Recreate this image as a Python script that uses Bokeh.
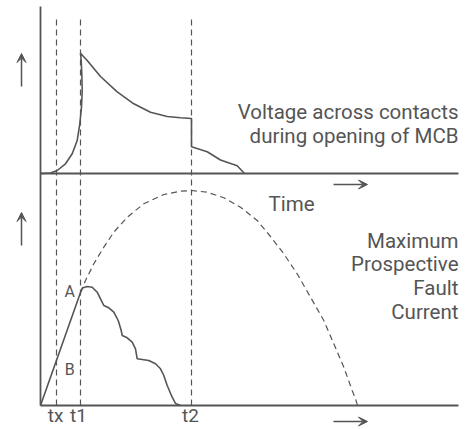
from bokeh.plotting import figure
from bokeh.models import Range1d, Arrow, VeeHead
from bokeh.core.properties import value
from bokeh.embed import file_html
from bokeh.resources import INLINE

# ---- data (time units; voltage panel and current panel) ----
t_marks = [16, 40, 151]
t_labels = ["tx", "t1", "t2"]

# voltage across contacts
v_time = [0, 10, 16.7, 25, 31.7, 36.7, 39.3, 41, 41.7, 41.3, 40.7, 40,
          46.7, 60, 76.7, 93.3, 110, 126.7, 140, 151,
          151, 166.7, 180, 196.7, 204]
v_vals = [0, 0.5, 3, 9.7, 19.7, 33, 49.7, 66.3, 83, 99.7, 113, 120.3,
          113, 97, 81.7, 69.7, 61.3, 57, 55.7, 55,
          26.7, 21.7, 13.5, 7.7, 0]

# actual (limited) fault current
i_time = [0, 40, 42, 46.7, 51.7, 56.7, 60, 63.3, 68.3, 73.3, 77.7, 80.7, 81.7,
          86.7, 91.7, 95, 96.7, 101.7, 108.3, 115, 120, 123.3, 126.7, 131.7, 135, 140]
i_vals = [0, 113, 117.5, 119, 118.3, 113.3, 106.7, 100, 97.7, 93.3, 85, 75, 70,
          67.7, 63.3, 56.7, 46.7, 46, 45, 41.7, 36.7, 30, 20, 8.3, 2, 0]

# maximum prospective fault current
p_time = [40, 45, 53.3, 63.3, 73.3, 86.7, 103.3, 123.3, 140, 151.7, 166.7, 183.3,
          200, 216.7, 230, 243.3, 256.7, 270, 283.3, 293.3, 303.3, 311.7, 315, 317]
p_vals = [113, 125, 141.7, 158.3, 173.3, 188.3, 201.7, 211, 214.3, 215, 213.3, 207.7,
          198.3, 185, 169, 151.7, 131.7, 108.3, 85, 61.7, 38.3, 15, 6.7, 0]

axis_end = 418
grey = "#555555"
text_grey = "#555555"
FONT = value("Roboto")

p = figure(width=475, height=429, output_backend="svg", toolbar_location=None,
           x_range=Range1d(-40, 435), y_range=Range1d(-24, 405), min_border=0,
           title_location=None)
p.extra_y_ranges = {"v": Range1d(-256, 173)}
p.axis.visible = False
p.grid.visible = False
p.outline_line_color = None
p.background_fill_color = "white"
p.border_fill_color = "white"

# axes
p.line([0, 0], [0, 399], line_color=grey, line_width=1.8)
p.line([0, axis_end], [0, 0], line_color=grey, line_width=1.8)
p.line([0, axis_end], [0, 0], line_color=grey, line_width=1.8, y_range_name="v")

# dashed time markers
for t in t_marks:
    p.line([t, t], [0, 389], line_color=grey, line_width=1.2, line_dash="6 4")

# curves
p.line(v_time, v_vals, line_color=grey, line_width=1.6, y_range_name="v")
p.line(i_time, i_vals, line_color=grey, line_width=1.6)
p.line(p_time, p_vals, line_color=grey, line_width=1.2, line_dash="6 4")

# arrows
head = dict(size=9, fill_color=grey, line_color=grey, line_width=1)
p.add_layout(Arrow(end=VeeHead(**head), x_start=-19, y_start=319, x_end=-19, y_end=352,
                   line_color=grey, line_width=1.5))
p.add_layout(Arrow(end=VeeHead(**head), x_start=-19, y_start=160, x_end=-19, y_end=193,
                   line_color=grey, line_width=1.5))
p.add_layout(Arrow(end=VeeHead(**head), x_start=293, y_start=221, x_end=327, y_end=221,
                   line_color=grey, line_width=1.5))
p.add_layout(Arrow(end=VeeHead(**head), x_start=293, y_start=-16, x_end=327, y_end=-16,
                   line_color=grey, line_width=1.5))

# texts
def txt(x, y, s, align="left", size="20.5px", yr=None, baseline="alphabetic"):
    kw = {}
    if yr:
        kw["y_range_name"] = yr
    p.text(x=[x], y=[y], text=[s], text_font=FONT, text_font_size=size,
           text_color=text_grey, text_align=align, text_baseline=baseline, **kw)

txt(axis_end, 61.3, "Voltage across contacts", "right", yr="v")
txt(axis_end, 38, "during opening of MCB", "right", yr="v")
txt(228, 201.7, "Time")
for s, y in zip(["Maximum", "Prospective", "Fault", "Current"], [165, 141.7, 117.7, 93.3]):
    txt(axis_end, y, s, "right")
txt(29.2, 114, "A", "center", size="16px")
txt(29.2, 36, "B", "center", size="16px")
for t, s, dx in zip(t_marks, t_labels, [-1, -2, -1]):
    txt(t + dx, -10, s, "center", size="19px", baseline="middle")

open("out.html", "w").write(file_html(p, INLINE))
